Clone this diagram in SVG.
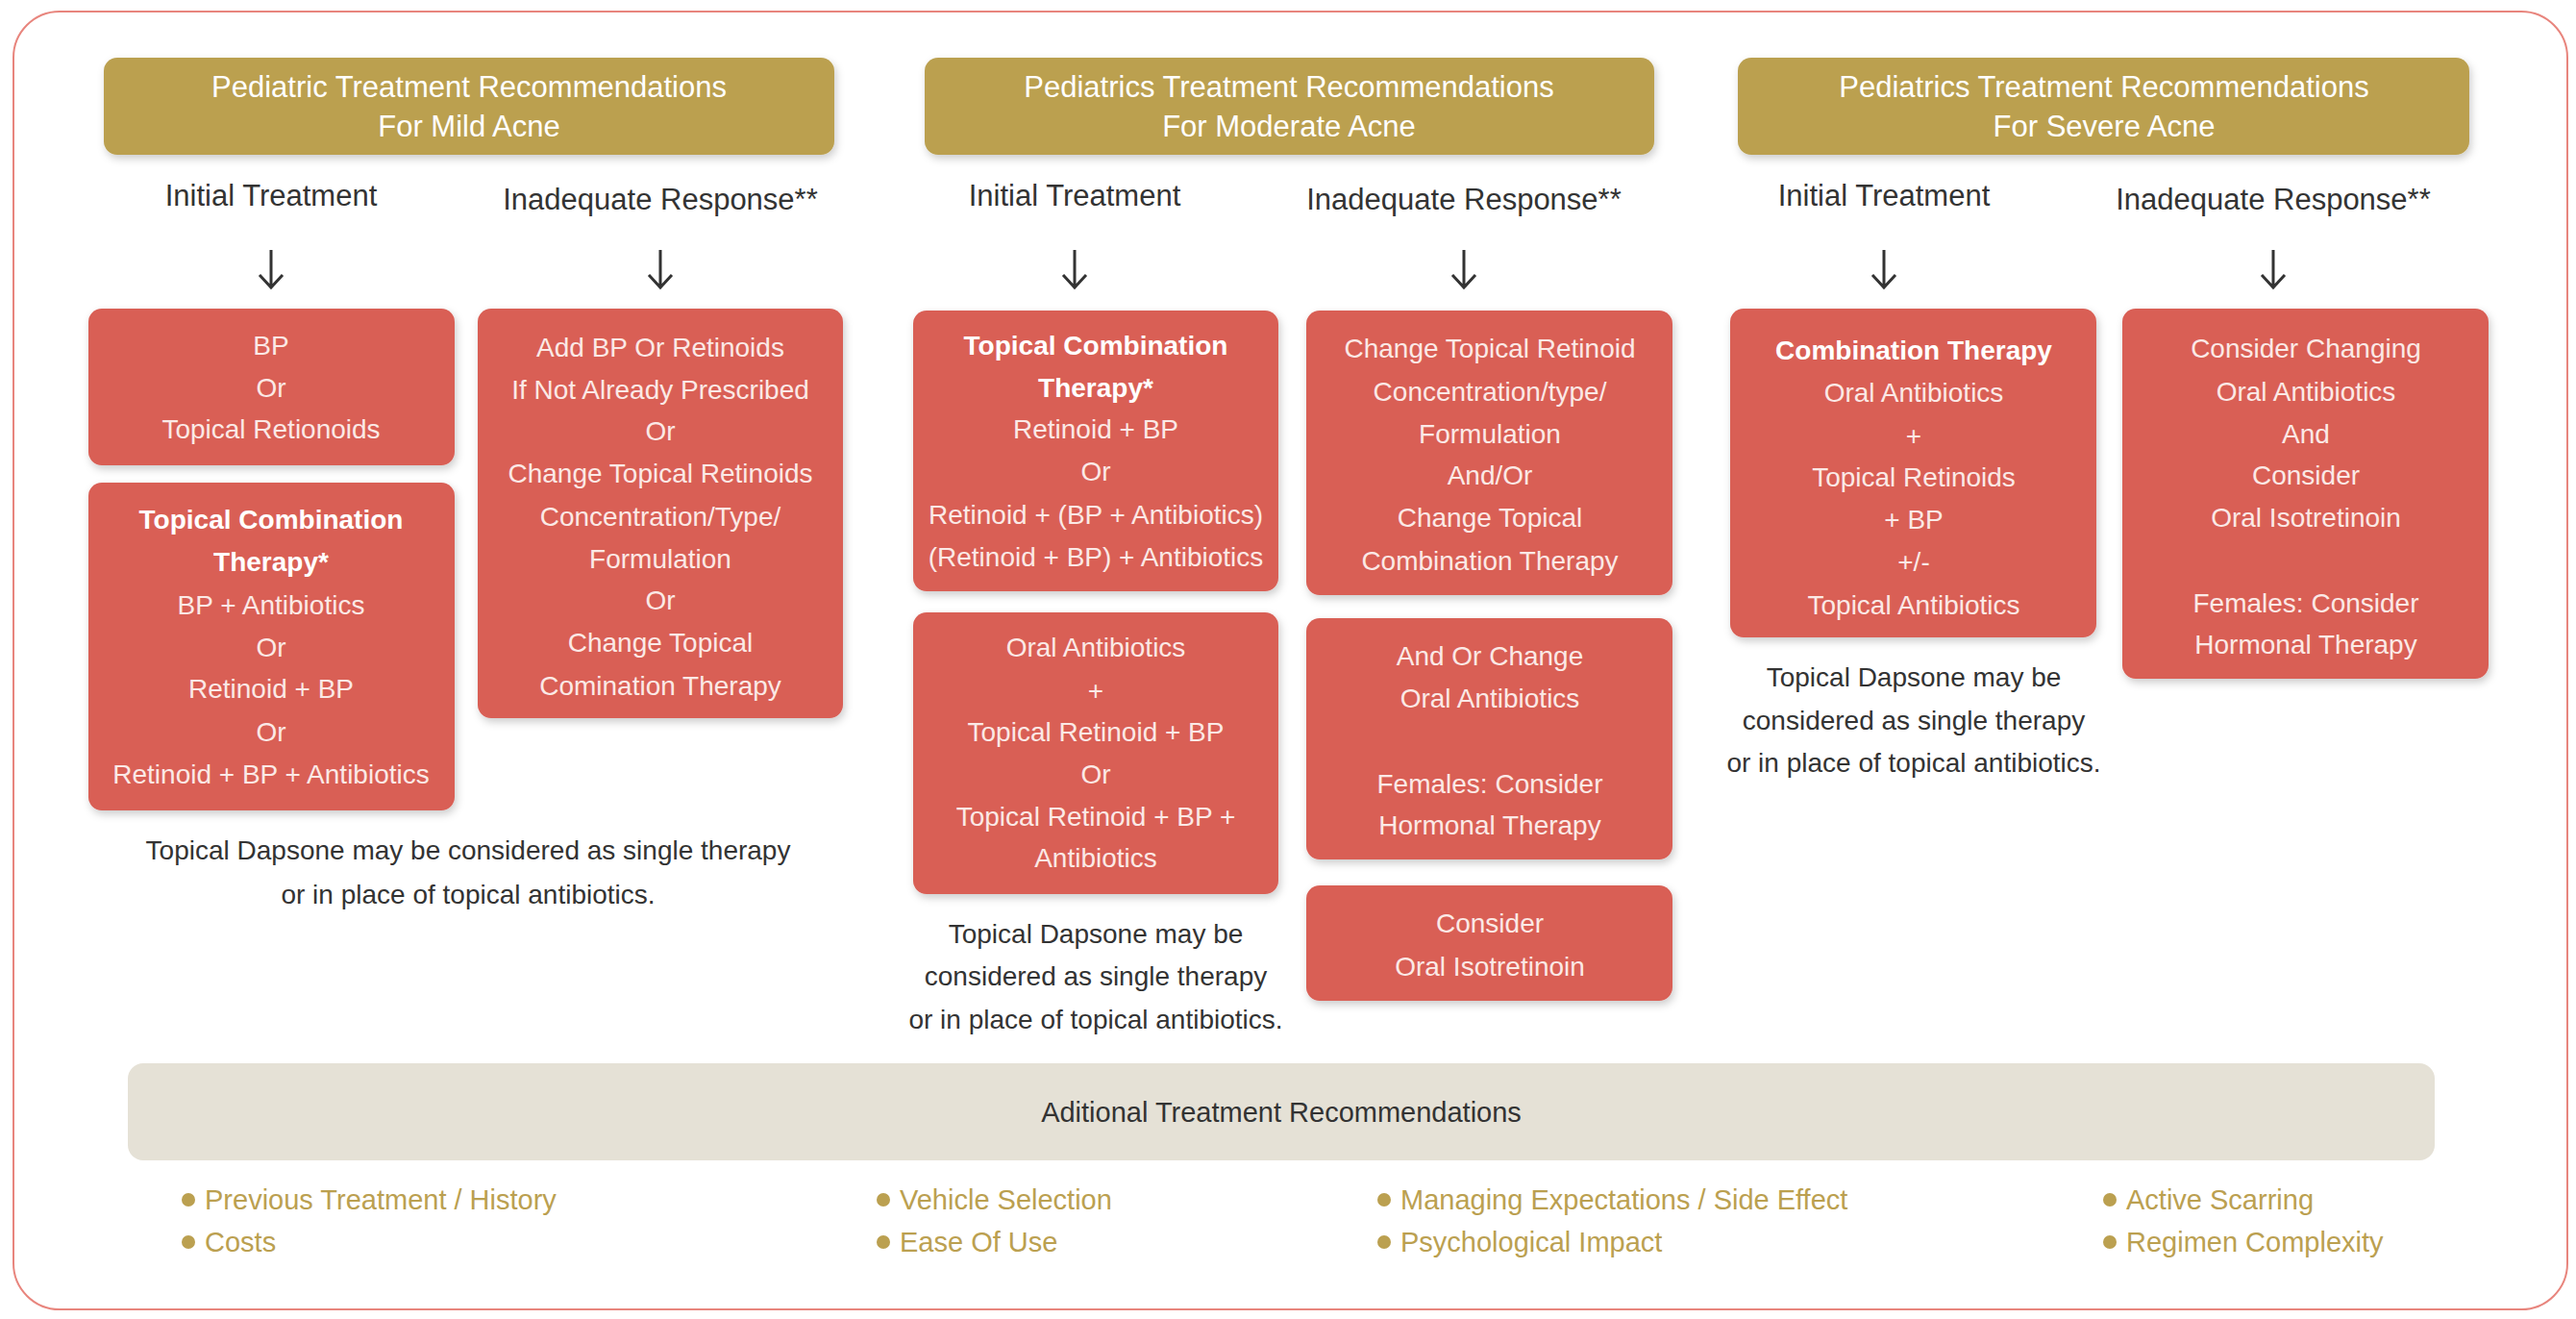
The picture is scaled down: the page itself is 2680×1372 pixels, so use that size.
<svg xmlns="http://www.w3.org/2000/svg" width="2680" height="1372" viewBox="0 0 2680 1372">
<style>
text{font-family:"Liberation Sans",Arial,sans-serif;text-anchor:middle}
.hd{fill:#BBA050}
.ht{fill:#fff;font-size:31px}
.lbl{fill:#333;font-size:31px}
.bx{fill:#D95F55}
.bt{fill:#fbe9e6;font-size:28px}
.b{font-weight:bold;fill:#fff}
.note{fill:#333;font-size:28px}
.bul{fill:#BBA050;font-size:29px;text-anchor:start}
.arr{stroke:#333;stroke-width:3;fill:none}
</style>
<defs>
<filter id="sh" x="-10%" y="-10%" width="120%" height="125%"><feDropShadow dx="2" dy="4" stdDeviation="4" flood-color="#000" flood-opacity="0.2"/></filter>
</defs>
<rect x="14" y="12" width="2657" height="1350" rx="48" fill="#fff" stroke="#E8857D" stroke-width="2"/>
<g id="headers">
<g id="h1"><rect class="hd" x="108" y="60" width="760" height="101" rx="14" filter="url(#sh)"/><text class="ht" x="488" y="101">Pediatric Treatment Recommendations</text><text class="ht" x="488" y="142">For Mild Acne</text></g>
<g id="h2"><rect class="hd" x="962" y="60" width="759" height="101" rx="14" filter="url(#sh)"/><text class="ht" x="1341" y="101">Pediatrics Treatment Recommendations</text><text class="ht" x="1341" y="142">For Moderate Acne</text></g>
<g id="h3"><rect class="hd" x="1808" y="60" width="761" height="101" rx="14" filter="url(#sh)"/><text class="ht" x="2189" y="101">Pediatrics Treatment Recommendations</text><text class="ht" x="2189" y="142">For Severe Acne</text></g>
</g>
<g id="labels">
<text class="lbl" x="282" y="214">Initial Treatment</text><text class="lbl" x="687" y="218">Inadequate Response**</text>
<text class="lbl" x="1118" y="214">Initial Treatment</text><text class="lbl" x="1523" y="218">Inadequate Response**</text>
<text class="lbl" x="1960" y="214">Initial Treatment</text><text class="lbl" x="2365" y="218">Inadequate Response**</text>
</g>
<g id="connectors">
<path class="arr" d="M282 260V299M270 286L282 299L294 286"/>
<path class="arr" d="M687 260V299M675 286L687 299L699 286"/>
<path class="arr" d="M1118 260V299M1106 286L1118 299L1130 286"/>
<path class="arr" d="M1523 260V299M1511 286L1523 299L1535 286"/>
<path class="arr" d="M1960 260V299M1948 286L1960 299L1972 286"/>
<path class="arr" d="M2365 260V299M2353 286L2365 299L2377 286"/>
</g>
<g id="c1a"><rect class="bx" x="92" y="321" width="381" height="163" rx="14" filter="url(#sh)"/>
<text class="bt" x="282" y="369">BP</text><text class="bt" x="282" y="413">Or</text><text class="bt" x="282" y="456">Topical Retionoids</text></g>
<g id="c1b"><rect class="bx" x="92" y="502" width="381" height="341" rx="14" filter="url(#sh)"/>
<text class="bt b" x="282" y="550">Topical Combination</text><text class="bt b" x="282" y="594">Therapy*</text><text class="bt" x="282" y="639">BP + Antibiotics</text><text class="bt" x="282" y="683">Or</text><text class="bt" x="282" y="726">Retinoid + BP</text><text class="bt" x="282" y="771">Or</text><text class="bt" x="282" y="815">Retinoid + BP + Antibiotics</text></g>
<g id="c1c"><rect class="bx" x="497" y="321" width="380" height="426" rx="14" filter="url(#sh)"/>
<text class="bt" x="687" y="371">Add BP Or Retinoids</text><text class="bt" x="687" y="415">If Not Already Prescribed</text><text class="bt" x="687" y="458">Or</text><text class="bt" x="687" y="502">Change Topical Retinoids</text><text class="bt" x="687" y="547">Concentration/Type/</text><text class="bt" x="687" y="591">Formulation</text><text class="bt" x="687" y="634">Or</text><text class="bt" x="687" y="678">Change Topical</text><text class="bt" x="687" y="723">Comination Therapy</text></g>
<g id="n1"><text class="note" x="487" y="894">Topical Dapsone may be considered as single therapy</text><text class="note" x="487" y="940">or in place of topical antibiotics.</text></g>
<g id="c2a"><rect class="bx" x="950" y="323" width="380" height="292" rx="14" filter="url(#sh)"/>
<text class="bt b" x="1140" y="369">Topical Combination</text><text class="bt b" x="1140" y="413">Therapy*</text><text class="bt" x="1140" y="456">Retinoid + BP</text><text class="bt" x="1140" y="500">Or</text><text class="bt" x="1140" y="545">Retinoid + (BP + Antibiotics)</text><text class="bt" x="1140" y="589">(Retinoid + BP) + Antibiotics</text></g>
<g id="c2b"><rect class="bx" x="950" y="637" width="380" height="293" rx="14" filter="url(#sh)"/>
<text class="bt" x="1140" y="683">Oral Antibiotics</text><text class="bt" x="1140" y="728">+</text><text class="bt" x="1140" y="771">Topical Retinoid + BP</text><text class="bt" x="1140" y="815">Or</text><text class="bt" x="1140" y="859">Topical Retinoid + BP +</text><text class="bt" x="1140" y="902">Antibiotics</text></g>
<g id="n2"><text class="note" x="1140" y="981">Topical Dapsone may be</text><text class="note" x="1140" y="1025">considered as single therapy</text><text class="note" x="1140" y="1070">or in place of topical antibiotics.</text></g>
<g id="c2c"><rect class="bx" x="1359" y="323" width="381" height="296" rx="14" filter="url(#sh)"/>
<text class="bt" x="1550" y="372">Change Topical Retinoid</text><text class="bt" x="1550" y="417">Concentration/type/</text><text class="bt" x="1550" y="461">Formulation</text><text class="bt" x="1550" y="504">And/Or</text><text class="bt" x="1550" y="548">Change Topical</text><text class="bt" x="1550" y="593">Combination Therapy</text></g>
<g id="c2d"><rect class="bx" x="1359" y="643" width="381" height="251" rx="14" filter="url(#sh)"/>
<text class="bt" x="1550" y="692">And Or Change</text><text class="bt" x="1550" y="736">Oral Antibiotics</text><text class="bt" x="1550" y="825">Females: Consider</text><text class="bt" x="1550" y="868">Hormonal Therapy</text></g>
<g id="c2e"><rect class="bx" x="1359" y="921" width="381" height="120" rx="14" filter="url(#sh)"/>
<text class="bt" x="1550" y="970">Consider</text><text class="bt" x="1550" y="1015">Oral Isotretinoin</text></g>
<g id="c3a"><rect class="bx" x="1800" y="321" width="381" height="342" rx="14" filter="url(#sh)"/>
<text class="bt b" x="1991" y="374">Combination Therapy</text><text class="bt" x="1991" y="418">Oral Antibiotics</text><text class="bt" x="1991" y="463">+</text><text class="bt" x="1991" y="506">Topical Retinoids</text><text class="bt" x="1991" y="550">+ BP</text><text class="bt" x="1991" y="594">+/-</text><text class="bt" x="1991" y="639">Topical Antibiotics</text></g>
<g id="n3"><text class="note" x="1991" y="714">Topical Dapsone may be</text><text class="note" x="1991" y="759">considered as single therapy</text><text class="note" x="1991" y="803">or in place of topical antibiotics.</text></g>
<g id="c3b"><rect class="bx" x="2208" y="321" width="381" height="385" rx="14" filter="url(#sh)"/>
<text class="bt" x="2399" y="372">Consider Changing</text><text class="bt" x="2399" y="417">Oral Antibiotics</text><text class="bt" x="2399" y="461">And</text><text class="bt" x="2399" y="504">Consider</text><text class="bt" x="2399" y="548">Oral Isotretinoin</text><text class="bt" x="2399" y="637">Females: Consider</text><text class="bt" x="2399" y="680">Hormonal Therapy</text></g>
<g id="additional"><rect x="133" y="1106" width="2400" height="101" rx="16" fill="#E5E1D6"/>
<text class="lbl" x="1333" y="1167" style="font-size:29px">Aditional Treatment Recommendations</text></g>
<g id="bullets">
<circle cx="196" cy="1248" r="7" fill="#BBA050"/><text class="bul" x="213" y="1258">Previous Treatment / History</text>
<circle cx="196" cy="1292" r="7" fill="#BBA050"/><text class="bul" x="213" y="1302">Costs</text>
<circle cx="919" cy="1248" r="7" fill="#BBA050"/><text class="bul" x="936" y="1258">Vehicle Selection</text>
<circle cx="919" cy="1292" r="7" fill="#BBA050"/><text class="bul" x="936" y="1302">Ease Of Use</text>
<circle cx="1440" cy="1248" r="7" fill="#BBA050"/><text class="bul" x="1457" y="1258">Managing Expectations / Side Effect</text>
<circle cx="1440" cy="1292" r="7" fill="#BBA050"/><text class="bul" x="1457" y="1302">Psychological Impact</text>
<circle cx="2195" cy="1248" r="7" fill="#BBA050"/><text class="bul" x="2212" y="1258">Active Scarring</text>
<circle cx="2195" cy="1292" r="7" fill="#BBA050"/><text class="bul" x="2212" y="1302">Regimen Complexity</text>
</g>
</svg>
